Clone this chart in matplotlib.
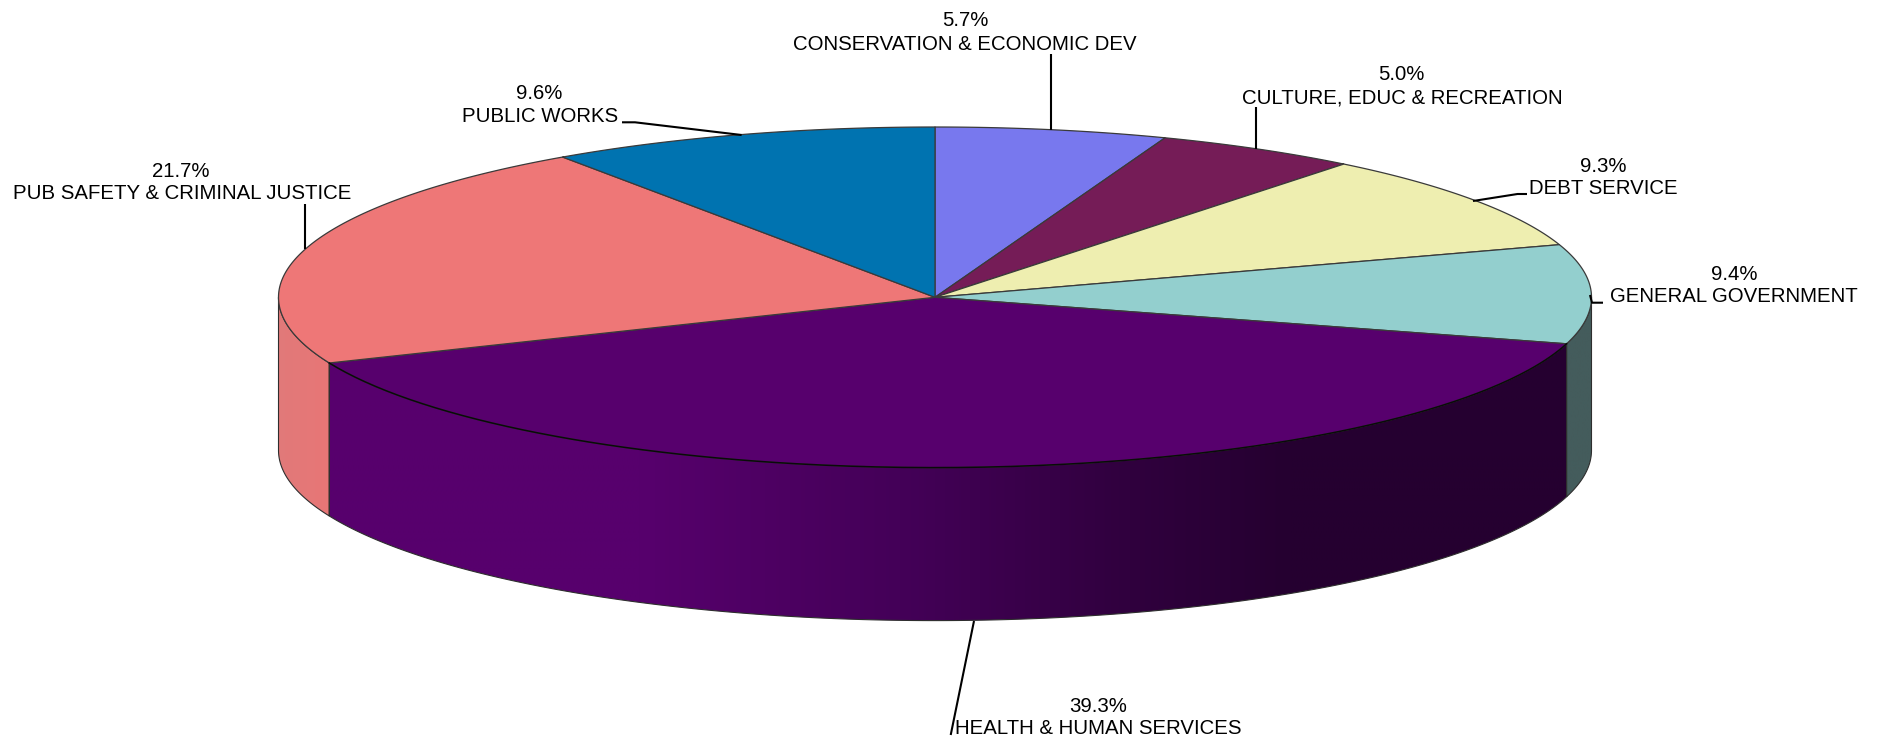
import numpy as np
import matplotlib
matplotlib.use("Agg")
import matplotlib.pyplot as plt
from matplotlib.patches import Polygon
from matplotlib.colors import LinearSegmentedColormap

# Budget shares, clockwise from twelve o'clock
categories = ["CONSERVATION & ECONOMIC DEV", "CULTURE, EDUC & RECREATION", "DEBT SERVICE",
              "GENERAL GOVERNMENT", "HEALTH & HUMAN SERVICES",
              "PUB SAFETY & CRIMINAL JUSTICE", "PUBLIC WORKS"]
shares = [5.7, 5.0, 9.3, 9.4, 39.3, 21.7, 9.6]
top_colors = ["#7878EE", "#751C57", "#EEEEB0", "#93CFCE", "#57006D", "#EE7777", "#0073B0"]

# Disc geometry in pixels
CX, CY, RX, RY, DEPTH = 935.0, 297.3, 656.5, 170.3, 153.0

# Horizontal shading of the wall per slice: (x position, colour)
wall_shading = {
    3: [(1500, "#445C5C"), (1600, "#445C5C")],
    4: [(320, "#57006D"), (640, "#57006D"), (900, "#440058"), (1130, "#30003E"), (1290, "#250030"), (1600, "#250030")],
    5: [(270, "#E07A7A"), (330, "#E87676")],
}

# Leader lines and label anchors: (percent x, percent baseline, name x, name baseline)
leaders = [
    [(1051.5, 54), (1051.5, 130)],
    [(1256.5, 107), (1256.5, 149)],
    [(1473, 201), (1517.5, 194), (1527, 194)],
    [(1590, 295), (1592, 302.7), (1603, 302.7)],
    [(974, 621), (950.7, 735)],
    [(305.4, 204.3), (305.4, 249.3)],
    [(741.6, 135), (635, 122.3), (622, 122.3)],
]
label_pos = [
    (965, 26.5, 965, 49.5),
    (1401, 80.5, 1402, 103.5),
    (1603, 172.5, 1603.5, 194.5),
    (1734.5, 279.5, 1734, 302.5),
    (1098, 712, 1098.2, 733.5),
    (180.8, 177, 181.8, 199),
    (539.5, 99, 540.5, 122),
]


def rim(a, b, drop=0.0, n=240):
    t = np.radians(np.linspace(a, b, n))
    return np.column_stack([CX + RX * np.sin(t), CY - RY * np.cos(t) + drop])


plt.rcParams["font.family"] = ["Liberation Sans", "DejaVu Sans"]
fig = plt.figure(figsize=(18.79, 7.42), dpi=100, facecolor="white")
ax = fig.add_axes([0, 0, 1, 1])
ax.set_xlim(0, 1879)
ax.set_ylim(742, 0)
ax.axis("off")

edges = np.cumsum([0.0] + shares) * 3.6

# Outer wall, visible on the near half of the disc only
for i, color in enumerate(top_colors):
    a, b = max(edges[i], 90.0), min(edges[i + 1], 270.0)
    if a >= b:
        continue
    pts = np.vstack([rim(a, b), rim(a, b, DEPTH)[::-1]])
    wall = Polygon(pts, closed=True, facecolor="none", edgecolor="none")
    ax.add_patch(wall)
    stops = wall_shading[i]
    x0, x1 = stops[0][0], stops[-1][0]
    cmap = LinearSegmentedColormap.from_list(
        f"wall{i}", [((x - x0) / (x1 - x0), c) for x, c in stops])
    img = ax.imshow(np.linspace(0, 1, 512)[None, :], cmap=cmap, aspect="auto",
                    extent=(x0, x1, CY + RY + DEPTH + 5, CY - 5), zorder=1)
    img.set_clip_path(wall)
    ax.add_patch(Polygon(pts, closed=True, facecolor="none", edgecolor="#2E2E2E",
                         linewidth=0.8, zorder=2))

ax.set_xlim(0, 1879)
ax.set_ylim(742, 0)

# Top face
for i, color in enumerate(top_colors):
    pts = np.vstack([[CX, CY], rim(edges[i], edges[i + 1])])
    ax.add_patch(Polygon(pts, closed=True, facecolor=color, edgecolor="#3A3A3A",
                         linewidth=0.9, joinstyle="round", zorder=3))

# Dark seam where the largest slice meets its wall
seam = rim(edges[4], edges[5])
ax.plot(seam[:, 0], seam[:, 1], color="#0A0A0A", linewidth=1.1, zorder=3.5)

# Leaders and labels
for i, (name, share) in enumerate(zip(categories, shares)):
    xs, ys = zip(*leaders[i])
    ax.plot(xs, ys, color="black", linewidth=1.5, zorder=4, solid_capstyle="butt")
    px, py, nx, ny = label_pos[i]
    ax.text(px, py, f"{share:.1f}%", ha="center", va="baseline", fontsize=14.7, color="black", zorder=5)
    ax.text(nx, ny, name, ha="center", va="baseline", fontsize=14.7, color="black", zorder=5)

fig.savefig("out.png", dpi=100, facecolor="white")
